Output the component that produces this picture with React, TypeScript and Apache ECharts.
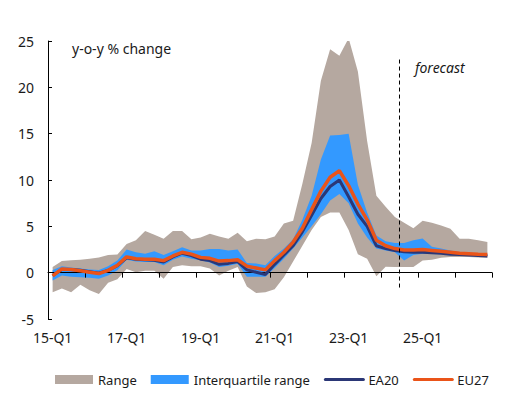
import React, { useEffect, useRef } from "react";
import * as echarts from "echarts";

const years = ["15", "16", "17", "18", "19", "20", "21", "22", "23", "24", "25", "26"];
const quarters = ["Q1", "Q2", "Q3", "Q4"];
const categories: string[] = [];
years.forEach((y) => quarters.forEach((q) => categories.push(`${y}-${q}`)));

const rangeLow = [
  -2.1, -1.7, -2.1, -1.3, -1.9, -2.3, -1.1, -0.7,
  0.4, 0.05, 0.2, 0.2, -0.65, 0.6, 0.8, 0.7,
  0.7, 0.45, -0.3, 0.2, 0.6, -1.5, -2.2, -2.1,
  -1.8, -0.5, 1.2, 2.9, 4.6, 6.0, 6.5, 6.5,
  4.6, 2.0, 1.5, -0.4, 0.65, 0.6, 0.6, 0.6,
  1.3, 1.4, 1.6, 1.7, 1.7, 1.7, 1.65, 1.6,
];
const rangeHigh = [
  0.6, 1.25, 1.35, 1.4, 1.5, 1.65, 1.9, 1.97,
  3.1, 3.5, 4.5, 4.1, 3.67, 4.5, 4.5, 3.6,
  3.8, 4.2, 3.9, 3.67, 4.3, 3.4, 3.67, 3.6,
  3.9, 5.3, 5.6, 9.6, 14.0, 20.7, 24.1, 23.4,
  25.3, 21.7, 14.2, 8.3, 7.1, 6.0, 5.4, 4.8,
  5.6, 5.4, 5.1, 4.75, 3.67, 3.67, 3.5, 3.3,
];
const iqrLow = [
  -0.85, -0.3, -0.45, -0.5, -0.55, -0.65, -0.3, 0.25,
  1.4, 1.2, 1.15, 1.15, 0.8, 1.4, 1.75, 1.5,
  1.35, 1.1, 0.6, 0.75, 0.95, -0.45, -0.45, -0.45,
  0.5, 1.5, 2.6, 3.8, 5.0, 6.3, 7.8, 8.5,
  7.5, 5.3, 3.8, 2.6, 2.4, 2.2, 1.3, 1.9,
  2.05, 2.1, 2.15, 2.0, 1.95, 1.9, 1.85, 1.8,
];
const iqrHigh = [
  0.3, 0.7, 0.55, 0.45, 0.35, 0.3, 0.7, 1.3,
  2.5, 2.2, 2.05, 2.3, 1.9, 2.3, 2.75, 2.4,
  2.4, 2.55, 2.55, 2.4, 2.5, 1.05, 1.0, 0.8,
  1.8, 2.6, 3.6, 5.7, 8.3, 12.2, 14.8, 14.85,
  15.0, 9.5, 6.5, 4.0, 3.4, 3.2, 3.2, 3.5,
  3.7, 2.8, 2.6, 2.4, 2.2, 2.1, 2.05, 2.0,
];
const ea20 = [
  -0.3, 0.35, 0.35, 0.25, 0.1, -0.05, 0.25, 0.75,
  1.6, 1.45, 1.4, 1.35, 1.15, 1.7, 2.1, 1.85,
  1.45, 1.3, 0.9, 1.0, 1.2, 0.3, 0.05, -0.2,
  0.9, 1.9, 2.9, 4.4, 6.2, 8.0, 9.3, 10.0,
  8.2, 6.3, 5.0, 2.9, 2.6, 2.4, 2.25, 2.2,
  2.2, 2.15, 2.1, 2.0, 1.95, 1.9, 1.85, 1.8,
];
const eu27 = [
  -0.35, 0.4, 0.35, 0.2, 0.05, -0.1, 0.25, 0.8,
  1.7, 1.5, 1.45, 1.45, 1.3, 1.8, 2.2, 2.0,
  1.65, 1.55, 1.25, 1.3, 1.4, 0.7, 0.5, 0.3,
  1.3, 2.2, 3.3, 4.8, 6.8, 8.8, 10.3, 11.0,
  9.4, 7.4, 5.7, 3.5, 2.9, 2.6, 2.45, 2.45,
  2.5, 2.4, 2.3, 2.2, 2.1, 2.05, 2.0, 1.97,
];
// forecast divider: after 38 quarters (between 24-Q2 and 24-Q3)
const forecastStart = 38;
const forecastLine = [
  [forecastStart, 23],
  [forecastStart, -1.7],
];

const yTicks = { min: -5, max: 25, interval: 5 };

const FONT = "'Noto Sans', sans-serif";
const TEXT = "#1a1a1a";
const GREY = "#b5a8a0";
const BLUE = "#3399ff";
const NAVY = "#2b3776";
const ORANGE = "#ea5419";

export default function App() {
  const ref = useRef<HTMLDivElement>(null);
  useEffect(() => {
    if (!ref.current) return;
    const chart = echarts.init(ref.current, undefined, { renderer: "svg" });
    const rangeDiff = rangeHigh.map((v, i) => +(v - rangeLow[i]).toFixed(3));
    const iqrDiff = iqrHigh.map((v, i) => +(v - iqrLow[i]).toFixed(3));
    const bandBase = {
      type: "line",
      symbol: "none",
      silent: true,
      stackStrategy: "all",
      lineStyle: { width: 0, opacity: 0 },
      z: 1,
    };
    chart.setOption({
      animation: false,
      textStyle: { fontFamily: FONT, color: TEXT },
      grid: { left: 48, right: 21, top: 41, bottom: 79, containLabel: false },
      legend: {
        data: [
          { name: "Range", icon: "rect" },
          { name: "Interquartile range", icon: "rect" },
          { name: "EA20", itemStyle: { opacity: 0 }, lineStyle: { width: 3, cap: "round" } },
          { name: "EU27", itemStyle: { opacity: 0 }, lineStyle: { width: 3, cap: "round" } },
        ],
        left: 50,
        top: 368,
        itemWidth: 38,
        itemHeight: 9,
        itemGap: 14,
        textStyle: { fontSize: 13, color: TEXT, fontFamily: FONT },
        selectedMode: false,
      },
      xAxis: [
        {
          type: "category",
          data: categories,
          boundaryGap: true,
          position: "bottom",
          axisLine: { show: false, onZero: false },
          axisTick: { show: false },
          axisLabel: { interval: 7, fontSize: 14, color: TEXT, margin: 11, fontFamily: FONT },
          splitLine: { show: false },
        },
        {
          type: "category",
          data: categories,
          boundaryGap: true,
          axisLine: { show: true, onZero: true, lineStyle: { color: "#000", width: 1 } },
          axisTick: { show: true, inside: true, interval: 3, length: 5, lineStyle: { color: "#000" } },
          axisLabel: { show: false },
          splitLine: { show: false },
          z: 3,
        },
        { type: "value", min: 0, max: categories.length, show: false },
      ],
      yAxis: {
        type: "value",
        min: yTicks.min,
        max: yTicks.max,
        interval: yTicks.interval,
        axisLine: { show: true, lineStyle: { color: "#000", width: 1 } },
        axisTick: { show: true, inside: true, length: 4, lineStyle: { color: "#000" } },
        axisLabel: { fontSize: 14, color: TEXT, margin: 14, fontFamily: FONT },
        splitLine: { show: false },
      },
      series: [
        { ...bandBase, name: "rangeBase", stack: "range", data: rangeLow },
        {
          ...bandBase,
          name: "Range",
          stack: "range",
          data: rangeDiff,
          color: GREY,
          itemStyle: { color: GREY },
          areaStyle: { color: GREY, opacity: 1 },
        },
        { ...bandBase, name: "iqrBase", stack: "iqr", data: iqrLow },
        {
          ...bandBase,
          name: "Interquartile range",
          stack: "iqr",
          data: iqrDiff,
          color: BLUE,
          itemStyle: { color: BLUE },
          areaStyle: { color: BLUE, opacity: 1 },
        },
        {
          type: "line",
          name: "EA20",
          data: ea20,
          symbol: "none",
          color: NAVY,
          lineStyle: { color: NAVY, width: 3 },
          z: 4,
        },
        {
          type: "line",
          name: "EU27",
          data: eu27,
          symbol: "none",
          color: ORANGE,
          lineStyle: { color: ORANGE, width: 3.5 },
          z: 5,
        },
        {
          type: "line",
          name: "forecastDivider",
          xAxisIndex: 2,
          data: forecastLine,
          symbol: "none",
          silent: true,
          lineStyle: { color: "#000", width: 1, type: [4, 3] },
          z: 6,
        },
      ],
      graphic: [
        {
          type: "text",
          left: 72,
          top: 41,
          style: { text: "y-o-y % change", font: `14px ${FONT}`, fill: TEXT },
        },
        {
          type: "text",
          left: 415,
          top: 60,
          style: { text: "forecast", font: `italic 14px ${FONT}`, fill: TEXT },
        },
      ],
    });
    return () => chart.dispose();
  }, []);
  return (
    <div
      ref={ref}
      style={{ position: "fixed", left: 0, top: 0, width: 513, height: 398, background: "#fff" }}
    />
  );
}
